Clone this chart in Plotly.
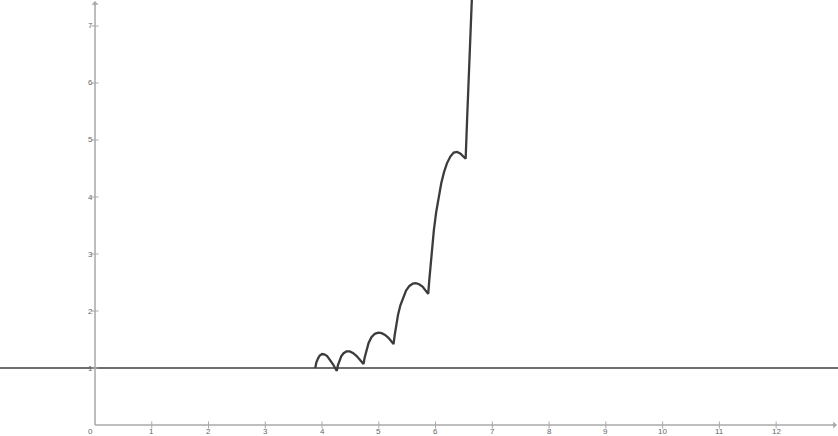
import plotly.graph_objects as go

# Curve samples (x, y) traced along the piecewise arcs
curve_x = [3.88, 3.90, 3.93, 3.96, 4.00, 4.04, 4.09, 4.14, 4.19, 4.23, 4.26,
           4.28, 4.31, 4.34, 4.38, 4.43, 4.49, 4.55, 4.61, 4.67, 4.73,
           4.75, 4.78, 4.82, 4.87, 4.93, 4.99, 5.05, 5.11, 5.17, 5.22, 5.26,
           5.28, 5.31, 5.34, 5.38, 5.43, 5.48, 5.54, 5.60, 5.65, 5.71, 5.77, 5.82, 5.87,
           5.89, 5.91, 5.94, 5.97, 6.01, 6.05, 6.10, 6.15, 6.20, 6.26, 6.32,
           6.38, 6.44, 6.49, 6.53,
           6.555, 6.58, 6.61, 6.64, 6.66]
curve_y = [1.00, 1.10, 1.17, 1.22, 1.245, 1.24, 1.21, 1.15, 1.07, 1.00, 0.95,
           1.05, 1.14, 1.21, 1.26, 1.29, 1.29, 1.26, 1.21, 1.14, 1.07,
           1.18, 1.31, 1.44, 1.54, 1.60, 1.62, 1.61, 1.58, 1.53, 1.47, 1.42,
           1.58, 1.77, 1.94, 2.10, 2.25, 2.36, 2.44, 2.48, 2.49, 2.47, 2.43, 2.37, 2.30,
           2.55, 2.80, 3.12, 3.42, 3.73, 3.98, 4.24, 4.44, 4.59, 4.71, 4.78,
           4.79, 4.76, 4.71, 4.67,
           5.35, 6.05, 6.75, 7.46, 8.00]

x_ticks = [1, 2, 3, 4, 5, 6, 7, 8, 9, 10, 11, 12]
y_ticks = [1, 2, 3, 4, 5, 6, 7]
h_line_y = 1

x_range = [-1.674, 13.09]
y_range = [-0.193, 7.456]

axis_color = "#a8a8a8"
label_color = "#666666"

fig = go.Figure()

# horizontal reference line y = 1
fig.add_trace(go.Scatter(x=x_range, y=[h_line_y, h_line_y], mode="lines",
                         line=dict(color="#6e6e6e", width=2), hoverinfo="skip"))

# axes drawn from the origin
fig.add_trace(go.Scatter(x=[0, x_range[1] - 0.03], y=[0, 0], mode="lines",
                         line=dict(color=axis_color, width=1.5), hoverinfo="skip"))
fig.add_trace(go.Scatter(x=[0, 0], y=[0, y_range[1] - 0.03], mode="lines",
                         line=dict(color=axis_color, width=1.5), hoverinfo="skip"))

# tick marks
fig.add_trace(go.Scatter(x=x_ticks, y=[0] * len(x_ticks), mode="markers",
                         marker=dict(symbol="line-ns", size=5,
                                     line=dict(color=axis_color, width=1)),
                         hoverinfo="skip"))
fig.add_trace(go.Scatter(x=[0] * len(y_ticks), y=y_ticks, mode="markers",
                         marker=dict(symbol="line-ew", size=5,
                                     line=dict(color=axis_color, width=1)),
                         hoverinfo="skip"))

# the function graph
fig.add_trace(go.Scatter(x=curve_x, y=curve_y, mode="lines",
                         line=dict(color="#3c3c3c", width=2.3), hoverinfo="skip"))

annotations = []
for t in x_ticks:
    annotations.append(dict(x=t, y=0, text=str(t), showarrow=False,
                            yshift=-6, xanchor="center", yanchor="middle",
                            font=dict(size=8, color=label_color, family="Arial")))
for t in y_ticks:
    annotations.append(dict(x=0, y=t, text=str(t), showarrow=False,
                            xshift=-5, xanchor="center", yanchor="middle",
                            font=dict(size=8, color=label_color, family="Arial")))
annotations.append(dict(x=0, y=0, text="0", showarrow=False, xshift=-5, yshift=-6,
                        xanchor="center", yanchor="middle",
                        font=dict(size=8, color=label_color, family="Arial")))

# arrowheads at the axis ends
annotations.append(dict(x=x_range[1] - 0.02, y=0, ax=-6, ay=0, text="", showarrow=True,
                        arrowhead=1, arrowsize=1, arrowwidth=1.2, arrowcolor=axis_color,
                        xref="x", yref="y"))
annotations.append(dict(x=0, y=y_range[1] - 0.02, ax=0, ay=6, text="", showarrow=True,
                        arrowhead=1, arrowsize=1, arrowwidth=1.2, arrowcolor=axis_color,
                        xref="x", yref="y"))

fig.update_layout(
    width=838, height=436,
    margin=dict(l=0, r=0, t=0, b=0),
    paper_bgcolor="white", plot_bgcolor="white",
    showlegend=False,
    annotations=annotations,
    xaxis=dict(range=x_range, visible=False, fixedrange=True),
    yaxis=dict(range=y_range, visible=False, fixedrange=True),
)

fig.write_html("out.html")
